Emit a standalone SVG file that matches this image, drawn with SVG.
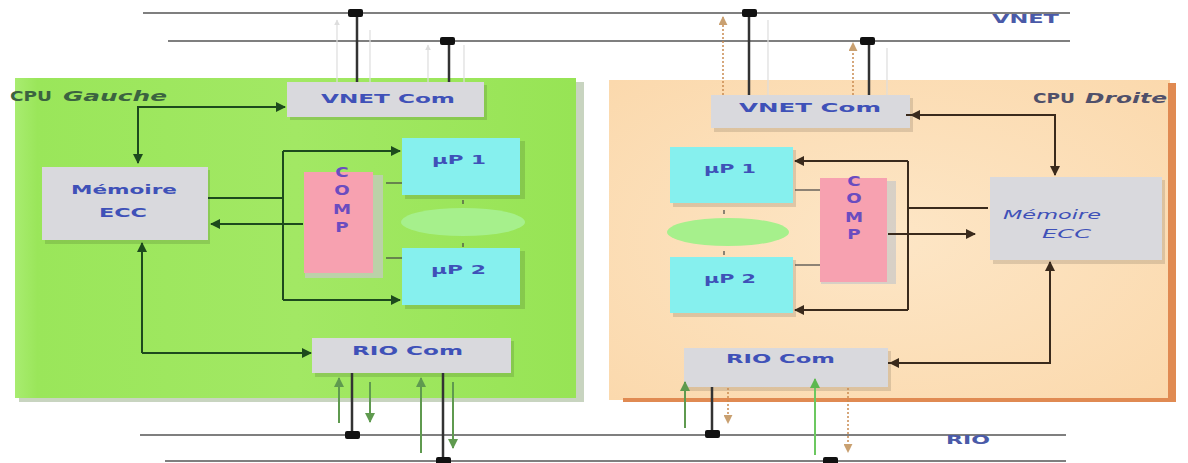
<svg xmlns="http://www.w3.org/2000/svg" width="1188" height="463" viewBox="0 0 1188 463">
<defs>
<style>
.bus{stroke:#555;stroke-width:1.5;fill:none}
.jn{fill:#111}
.drop{stroke:#333;stroke-width:2.5;fill:none}
.faint{stroke:#ddd;stroke-width:1.2;fill:none}
.gconn{stroke:#1d4a1d;stroke-width:2;fill:none}
.rconn{stroke:#3a2a1c;stroke-width:2;fill:none}
.thin{stroke:#444;stroke-width:1.2;fill:none}
.garr{stroke:#5f9a4f;stroke-width:2;fill:none}
.garr2{stroke:#6cc860;stroke-width:2;fill:none}
.oarr{stroke:#c98a50;stroke-width:1.5;stroke-dasharray:2 2;fill:none}
.gray{fill:#d9d9dd}
.shadow{fill:#000;fill-opacity:0.12}
.cyan{fill:#86f0ee}
.pink{fill:#f7a1b0}
.ell{fill:#a6f08c}
.lbl{font-family:"DejaVu Sans",sans-serif;font-weight:bold;fill:#3f51b8}
.lbli{font-family:"DejaVu Sans",sans-serif;font-style:italic;fill:#3f51b8}
.comp{font-family:"DejaVu Sans",sans-serif;font-weight:bold;fill:#6a4cc0;font-size:14px;text-anchor:middle}
.cpug{font-family:"DejaVu Sans",sans-serif;font-weight:bold;fill:#3b6340;font-size:14px}
.cpud{font-family:"DejaVu Sans",sans-serif;font-weight:bold;fill:#50506a;font-size:14px}
.bl{font-family:"DejaVu Sans",sans-serif;font-weight:bold;fill:#4a5aa8;font-size:13px}
</style>
<linearGradient id="gg" x1="0" y1="0" x2="1" y2="0">
<stop offset="0" stop-color="#a8ec70"/><stop offset="0.04" stop-color="#9ae65a"/><stop offset="0.5" stop-color="#a2e864"/><stop offset="1" stop-color="#97e455"/>
</linearGradient>
<radialGradient id="pg" cx="0.5" cy="0.5" r="0.7">
<stop offset="0" stop-color="#fde6c6"/><stop offset="1" stop-color="#fbd9ad"/>
</radialGradient>
<marker id="ag" viewBox="0 0 10 10" refX="9" refY="5" markerWidth="5" markerHeight="5" orient="auto"><path d="M0,0 L10,5 L0,10 z" fill="#1d4a1d"/></marker>
<marker id="ar" viewBox="0 0 10 10" refX="9" refY="5" markerWidth="5" markerHeight="5" orient="auto"><path d="M0,0 L10,5 L0,10 z" fill="#3a2a1c"/></marker>
<marker id="agr" viewBox="0 0 10 10" refX="9" refY="5" markerWidth="5" markerHeight="5" orient="auto"><path d="M0,0 L10,5 L0,10 z" fill="#5f9a4f"/></marker>
<marker id="agr2" viewBox="0 0 10 10" refX="9" refY="5" markerWidth="5" markerHeight="5" orient="auto"><path d="M0,0 L10,5 L0,10 z" fill="#5cb850"/></marker>
<marker id="aor" viewBox="0 0 10 10" refX="9" refY="5" markerWidth="6" markerHeight="6" orient="auto"><path d="M0,0 L10,5 L0,10 z" fill="#c9a070"/></marker>
<marker id="afa" viewBox="0 0 10 10" refX="9" refY="5" markerWidth="5" markerHeight="5" orient="auto"><path d="M0,0 L10,5 L0,10 z" fill="#ddd"/></marker>
</defs>
<rect width="1188" height="463" fill="#fff"/>

<g id="cpu-gauche">
<rect x="19" y="82" width="565" height="320" fill="#c8d4c0"/>
<rect x="15" y="78" width="561" height="320" fill="url(#gg)"/>
<text class="cpug" x="10" y="101" textLength="42" lengthAdjust="spacingAndGlyphs">CPU</text>
<text class="cpug" x="63" y="101" font-style="italic" textLength="104" lengthAdjust="spacingAndGlyphs">Gauche</text>
</g>
<g id="cpu-droite">
<rect x="609" y="80" width="561" height="320" fill="url(#pg)"/>
<rect x="1168" y="83" width="8" height="319" fill="#e08a52"/>
<rect x="623" y="398" width="553" height="4" fill="#e08a52"/>
<text class="cpud" x="1033" y="103" textLength="42" lengthAdjust="spacingAndGlyphs">CPU</text>
<text class="cpud" x="1085" y="103" font-style="italic" textLength="82" lengthAdjust="spacingAndGlyphs">Droite</text>
</g>

<g id="buses">
<line class="bus" x1="143" y1="13" x2="1070" y2="13"/>
<line class="bus" x1="168" y1="41" x2="1070" y2="41"/>
<line class="bus" x1="140" y1="435" x2="1066" y2="435"/>
<line class="bus" x1="165" y1="461" x2="1066" y2="461"/>
<text class="bl" x="992" y="23" textLength="67" lengthAdjust="spacingAndGlyphs">VNET</text>
<text class="bl" x="946" y="444" textLength="44" lengthAdjust="spacingAndGlyphs">RIO</text>
</g>

<g id="vnet-com-g">
<rect class="shadow" x="290" y="85" width="197" height="35"/>
<rect class="gray" x="287" y="82" width="197" height="35"/>
<text class="lbl" x="321" y="103" font-size="13" textLength="134" lengthAdjust="spacingAndGlyphs">VNET Com</text>
</g>
<g id="memoire-g">
<rect class="shadow" x="45" y="170" width="165" height="74"/>
<rect class="gray" x="42" y="167" width="166" height="73"/>
<text class="lbl" x="71" y="194" font-size="12" textLength="106" lengthAdjust="spacingAndGlyphs">Mémoire</text>
<text class="lbl" x="99" y="217" font-size="12" textLength="48" lengthAdjust="spacingAndGlyphs">ECC</text>
</g>
<g id="comp-g">
<rect x="305" y="175" width="78" height="103" fill="#c8c8c8" fill-opacity="0.7"/>
<rect class="pink" x="304" y="172" width="69" height="101"/>
<text class="comp" transform="translate(342,177) scale(1.3,1)">C</text>
<text class="comp" transform="translate(342,195) scale(1.3,1)">O</text>
<text class="comp" transform="translate(342,214) scale(1.3,1)">M</text>
<text class="comp" transform="translate(342,232) scale(1.3,1)">P</text>
</g>
<g id="up1-g">
<rect class="shadow" x="405" y="141" width="120" height="58"/>
<rect class="cyan" x="402" y="138" width="118" height="57"/>
<text class="lbl" x="432" y="164" font-size="12" textLength="54" lengthAdjust="spacingAndGlyphs">µP 1</text>
</g>
<g id="up2-g">
<rect class="shadow" x="405" y="251" width="120" height="58"/>
<rect class="cyan" x="402" y="248" width="118" height="57"/>
<text class="lbl" x="431" y="274" font-size="12" textLength="55" lengthAdjust="spacingAndGlyphs">µP 2</text>
</g>
<g id="ell-g"><ellipse class="ell" cx="463" cy="222" rx="62" ry="14"/></g>
<g id="rio-com-g">
<rect class="shadow" x="315" y="341" width="199" height="36"/>
<rect class="gray" x="312" y="338" width="199" height="35"/>
<text class="lbl" x="352" y="355" font-size="13" textLength="111" lengthAdjust="spacingAndGlyphs">RIO Com</text>
</g>

<g id="vnet-com-d">
<rect class="shadow" x="714" y="98" width="199" height="34"/>
<rect class="gray" x="711" y="95" width="199" height="33"/>
<text class="lbl" x="739" y="112" font-size="13" textLength="142" lengthAdjust="spacingAndGlyphs">VNET Com</text>
</g>
<g id="memoire-d">
<rect class="shadow" x="993" y="180" width="172" height="84"/>
<rect class="gray" x="990" y="177" width="172" height="83"/>
<text class="lbli" x="1003" y="219" font-size="12" textLength="98" lengthAdjust="spacingAndGlyphs">Mémoire</text>
<text class="lbli" x="1042" y="238" font-size="12" font-style="normal" textLength="49" lengthAdjust="spacingAndGlyphs">ECC</text>
</g>
<g id="comp-d">
<rect x="821" y="181" width="75" height="103" fill="#c8c8c8" fill-opacity="0.7"/>
<rect class="pink" x="820" y="178" width="67" height="104"/>
<text class="comp" transform="translate(854,186) scale(1.3,1)">C</text>
<text class="comp" transform="translate(854,203) scale(1.3,1)">O</text>
<text class="comp" transform="translate(854,222) scale(1.3,1)">M</text>
<text class="comp" transform="translate(854,239) scale(1.3,1)">P</text>
</g>
<g id="up1-d">
<rect class="shadow" x="673" y="150" width="123" height="57"/>
<rect class="cyan" x="670" y="147" width="123" height="56"/>
<text class="lbl" x="704" y="173" font-size="12" textLength="52" lengthAdjust="spacingAndGlyphs">µP 1</text>
</g>
<g id="up2-d">
<rect class="shadow" x="673" y="260" width="123" height="57"/>
<rect class="cyan" x="670" y="257" width="123" height="56"/>
<text class="lbl" x="704" y="283" font-size="12" textLength="52" lengthAdjust="spacingAndGlyphs">µP 2</text>
</g>
<g id="ell-d"><ellipse class="ell" cx="728" cy="232" rx="61" ry="14"/></g>
<g id="rio-com-d">
<rect class="shadow" x="687" y="351" width="204" height="40"/>
<rect class="gray" x="684" y="348" width="204" height="39"/>
<text class="lbl" x="726" y="363" font-size="13" textLength="109" lengthAdjust="spacingAndGlyphs">RIO Com</text>
</g>

<g id="connectors">
<line class="faint" x1="337" y1="82" x2="337" y2="20" marker-end="url(#afa)"/>
<line class="faint" x1="370" y1="30" x2="370" y2="82"/>
<line class="faint" x1="428" y1="82" x2="428" y2="45" marker-end="url(#afa)"/>
<line class="faint" x1="464" y1="45" x2="464" y2="82"/>
<line class="drop" x1="357" y1="13" x2="357" y2="82"/>
<line class="drop" x1="449" y1="41" x2="449" y2="82"/>
<line class="faint" x1="768" y1="20" x2="768" y2="95"/>
<line class="faint" x1="887" y1="48" x2="887" y2="95"/>
<line class="oarr" x1="723" y1="95" x2="723" y2="17" marker-end="url(#aor)"/>
<line class="oarr" x1="853" y1="95" x2="853" y2="43" marker-end="url(#aor)"/>
<line class="drop" x1="749" y1="13" x2="749" y2="95"/>
<line class="drop" x1="869" y1="41" x2="869" y2="95"/>
<line class="garr" x1="339" y1="423" x2="339" y2="378" marker-end="url(#agr)"/>
<line class="drop" x1="352" y1="373" x2="352" y2="435"/>
<line class="garr" x1="370" y1="382" x2="370" y2="422" marker-end="url(#agr)"/>
<line class="garr" x1="421" y1="453" x2="421" y2="378" marker-end="url(#agr)"/>
<line class="drop" x1="443" y1="373" x2="443" y2="461"/>
<line class="garr" x1="453" y1="382" x2="453" y2="448" marker-end="url(#agr)"/>
<line class="garr" x1="685" y1="428" x2="685" y2="382" marker-end="url(#agr)"/>
<line class="drop" x1="712" y1="387" x2="712" y2="434"/>
<line class="oarr" x1="728" y1="388" x2="728" y2="423" marker-end="url(#aor)"/>
<line class="garr2" x1="815" y1="455" x2="815" y2="379" marker-end="url(#agr2)"/>
<line class="oarr" x1="848" y1="388" x2="848" y2="452" marker-end="url(#aor)"/>

<path class="gconn" d="M285,107 H138 V163" marker-end="url(#ag)"/>
<path class="gconn" d="M138,107 H285" marker-end="url(#ag)"/>
<path class="gconn" d="M142,353 V243" marker-end="url(#ag)"/>
<path class="gconn" d="M142,353 H311" marker-end="url(#ag)"/>
<path class="gconn" d="M208,198 H283"/>
<path class="gconn" d="M283,151 V300"/>
<path class="gconn" d="M283,151 H400" marker-end="url(#ag)"/>
<path class="gconn" d="M283,300 H400" marker-end="url(#ag)"/>
<path class="gconn" d="M303,224 H211" marker-end="url(#ag)"/>
<line class="thin" x1="386" y1="183" x2="402" y2="183"/>
<line class="thin" x1="386" y1="258" x2="402" y2="258"/>
<line class="thin" x1="463" y1="200" x2="463" y2="204"/>
<line class="thin" x1="463" y1="243" x2="463" y2="247"/>

<path class="rconn" d="M906,115 H1055 V175" marker-end="url(#ar)"/>
<path class="rconn" d="M1055,115 H911" marker-end="url(#ar)"/>
<path class="rconn" d="M888,363 H1050 V262" marker-end="url(#ar)"/>
<path class="rconn" d="M1050,363 H890" marker-end="url(#ar)"/>
<path class="rconn" d="M908,161 V310"/>
<path class="rconn" d="M908,161 H795" marker-end="url(#ar)"/>
<path class="rconn" d="M908,310 H795" marker-end="url(#ar)"/>
<path class="rconn" d="M908,208 H988"/>
<path class="rconn" d="M888,234 H975" marker-end="url(#ar)"/>
<line class="thin" x1="795" y1="190" x2="820" y2="190" stroke="#8a7a6a"/>
<line class="thin" x1="795" y1="265" x2="820" y2="265" stroke="#8a7a6a"/>
<line class="thin" x1="724" y1="210" x2="724" y2="214"/>
<line class="thin" x1="724" y1="251" x2="724" y2="255"/>
</g>

<g id="junctions">
<rect class="jn" x="348" y="9" width="15" height="8" rx="2"/>
<rect class="jn" x="440" y="37" width="15" height="8" rx="2"/>
<rect class="jn" x="742" y="9" width="15" height="8" rx="2"/>
<rect class="jn" x="860" y="37" width="15" height="8" rx="2"/>
<rect class="jn" x="345" y="431" width="15" height="8" rx="2"/>
<rect class="jn" x="436" y="457" width="15" height="8" rx="2"/>
<rect class="jn" x="705" y="430" width="15" height="8" rx="2"/>
<rect class="jn" x="823" y="457" width="15" height="8" rx="2"/>
</g>
</svg>
